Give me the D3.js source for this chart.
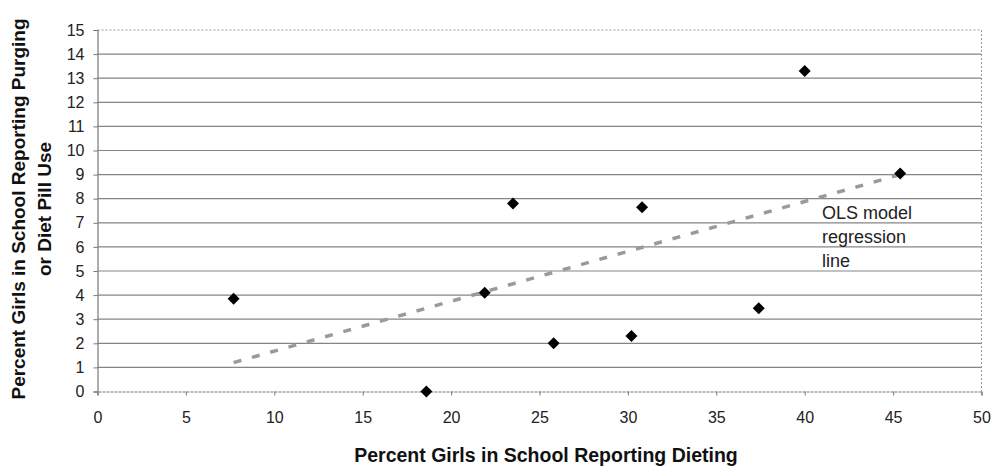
<!DOCTYPE html>
<html><head><meta charset="utf-8">
<script src="https://cdn.jsdelivr.net/npm/d3@7/dist/d3.min.js"></script>
<style>body{margin:0;background:#fff}svg{display:block}</style>
</head><body>
<svg id="c" width="991" height="468"></svg>
<script>
const dietingPct = [7.7, 18.6, 21.9, 23.5, 25.8, 30.2, 30.8, 37.4, 40.0, 45.4];
const purgingPct = [3.85, 0.0, 4.1, 7.8, 2.0, 2.3, 7.65, 3.45, 13.3, 9.05];
const regX = [7.7, 45.4];
const regY = [1.2, 9.0];
const xTicks = [0,5,10,15,20,25,30,35,40,45,50];
const yTicks = [0,1,2,3,4,5,6,7,8,9,10,11,12,13,14,15];
const xTitle = "Percent Girls in School Reporting Dieting";
const yTitle = ["Percent Girls in School Reporting Purging", "or Diet Pill Use"];
const annotation = ["OLS model", "regression", "line"];

const svg = d3.select("#c");
const L = 97.5, R = 981.5, T = 30, B = 391.5;
const x = d3.scaleLinear().domain([0,50]).range([L,R]);
const y = d3.scaleLinear().domain([0,15]).range([B,T]);
const font = "'Liberation Sans', Arial, sans-serif";

// gridlines
svg.append("g").selectAll("line").data(yTicks.filter(v=>v>0 && v<15)).join("line")
  .attr("x1", L).attr("x2", R).attr("y1", d=>y(d)).attr("y2", d=>y(d))
  .attr("stroke", "#858585").attr("stroke-width", 1.2);
// top & right dotted border
svg.append("line").attr("x1",L).attr("x2",R).attr("y1",y(15)).attr("y2",y(15))
  .attr("stroke","#999").attr("stroke-width",1).attr("stroke-dasharray","2,2");
svg.append("line").attr("x1",R).attr("x2",R).attr("y1",T).attr("y2",B)
  .attr("stroke","#999").attr("stroke-width",1).attr("stroke-dasharray","2,2");

// axes
const xAxis = d3.axisBottom(x).tickValues(xTicks).tickSize(4).tickPadding(16).tickFormat(d3.format("d"));
const gx = svg.append("g").attr("transform",`translate(0,${B})`).call(xAxis);
gx.select(".domain").attr("stroke","#777").attr("stroke-width",1.2).attr("stroke-dasharray","3,1");
gx.selectAll(".tick line").attr("stroke","#777");
gx.selectAll("text").attr("font-family",font).attr("font-size",16).attr("fill","#222");

const yAxis = d3.axisLeft(y).tickValues(yTicks).tickSize(4).tickPadding(9).tickFormat(d3.format("d"));
const gy = svg.append("g").attr("transform",`translate(${L},0)`).call(yAxis);
gy.select(".domain").attr("stroke","#777").attr("stroke-width",1.2);
gy.selectAll(".tick line").attr("stroke","#777");
gy.selectAll("text").attr("font-family",font).attr("font-size",16).attr("fill","#222");

// regression line
svg.append("path")
  .attr("d", d3.line().x(d=>x(d[0])).y(d=>y(d[1]))(regX.map((v,i)=>[v,regY[i]])))
  .attr("stroke","#9a9a9a").attr("stroke-width",3.5).attr("stroke-dasharray","8,11").attr("fill","none");

// points
svg.append("g").selectAll("path").data(dietingPct.map((v,i)=>[v,purgingPct[i]])).join("path")
  .attr("transform", d=>`translate(${x(d[0])},${y(d[1])}) rotate(45)`)
  .attr("d", d3.symbol().type(d3.symbolSquare).size(72))
  .attr("fill","#000");

// annotation
svg.append("g").selectAll("text").data(annotation).join("text")
  .attr("x", 822).attr("y", (d,i)=>219 + i*24)
  .attr("font-family",font).attr("font-size",18).attr("fill","#222").text(d=>d);

// titles
svg.append("text").attr("x", 546).attr("y", 462).attr("text-anchor","middle")
  .attr("font-family",font).attr("font-size",19.5).attr("font-weight","bold").attr("fill","#111").text(xTitle);
yTitle.forEach((t,i)=>{
  svg.append("text").attr("transform",`translate(${25 + i*26},209) rotate(-90)`)
    .attr("text-anchor","middle").attr("font-family",font).attr("font-size",19)
    .attr("font-weight","bold").attr("fill","#111").text(t);
});
</script>
</body></html>
